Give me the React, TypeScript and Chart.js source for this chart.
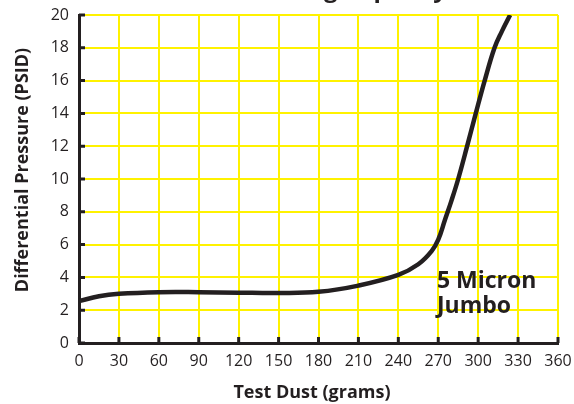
import React, { useEffect, useRef } from "react";
import { Chart, registerables } from "chart.js";

Chart.register(...registerables);

// ---- data ----
const DUST_GRAMS = [0, 15, 30, 60, 90, 120, 150, 180, 210, 240, 255, 265, 270, 275, 280, 285, 291.7, 298.2, 304.9, 312.3, 317.8, 324];
const PRESSURE_PSID = [2.55, 2.85, 3.0, 3.1, 3.1, 3.07, 3.05, 3.12, 3.5, 4.15, 4.8, 5.6, 6.3, 7.5, 8.7, 10, 12, 14, 16, 18, 19, 20];
const X_TICKS = [0, 30, 60, 90, 120, 150, 180, 210, 240, 270, 300, 330, 360];
const Y_TICKS = [0, 2, 4, 6, 8, 10, 12, 14, 16, 18, 20];
const SERIES_LABEL = ["5 Micron", "Jumbo"];
const LABEL_ANCHOR = { x: 269, y: 3.35 };
const CHART_TITLE = "Dirt Holding Capacity";
const X_TITLE = "Test Dust (grams)";
const Y_TITLE = "Differential Pressure (PSID)";

const INK = "#231f20";
const YELLOW = "#fff200";
const FONT = "'Open Sans', 'DejaVu Sans', sans-serif";

const zeroPad = (s: any) => {
  s.paddingLeft = 0;
  s.paddingRight = 0;
  s.paddingTop = 0;
  s.paddingBottom = 0;
};

const decorPlugin = {
  id: "decor",
  beforeDatasetsDraw(chart: any) {
    const { ctx, chartArea } = chart;
    const xs = chart.scales.x;
    const ys = chart.scales.y;
    ctx.save();
    ctx.strokeStyle = INK;
    ctx.lineWidth = 3;
    ctx.beginPath();
    for (const v of Y_TICKS) {
      const py = ys.getPixelForValue(v);
      ctx.moveTo(chartArea.left, py);
      ctx.lineTo(chartArea.left + 6, py);
    }
    for (const v of X_TICKS) {
      const px = xs.getPixelForValue(v);
      ctx.moveTo(px, chartArea.bottom);
      ctx.lineTo(px, chartArea.bottom - 6);
    }
    ctx.stroke();
    ctx.restore();
  },
  afterDraw(chart: any) {
    const { ctx } = chart;
    const xs = chart.scales.x;
    const ys = chart.scales.y;
    ctx.save();
    ctx.fillStyle = INK;
    // cut-off chart title
    ctx.font = `bold 24px ${FONT}`;
    ctx.textAlign = "right";
    ctx.textBaseline = "alphabetic";
    ctx.fillText(CHART_TITLE, 447, -3);
    // x title
    ctx.font = `bold 18px ${FONT}`;
    ctx.textAlign = "center";
    ctx.fillText(X_TITLE, 312, 398);
    // y title
    ctx.save();
    ctx.translate(28, 170);
    ctx.rotate(-Math.PI / 2);
    ctx.fillText(Y_TITLE, 0, 0);
    ctx.restore();
    // series label
    ctx.font = `bold 23px ${FONT}`;
    ctx.textAlign = "left";
    const lx = xs.getPixelForValue(LABEL_ANCHOR.x);
    const ly = ys.getPixelForValue(LABEL_ANCHOR.y);
    SERIES_LABEL.forEach((t, i) => ctx.fillText(t, lx, ly + i * 25));
    ctx.restore();
  },
};

export default function App() {
  const ref = useRef<HTMLCanvasElement | null>(null);
  useEffect(() => {
    if (!ref.current) return;
    const chart = new Chart(ref.current, {
      type: "line",
      data: {
        datasets: [
          {
            data: DUST_GRAMS.map((x, i) => ({ x, y: PRESSURE_PSID[i] })),
            borderColor: INK,
            borderWidth: 4.5,
            pointRadius: 0,
            tension: 0.4,
            fill: false,
          },
        ],
      },
      options: {
        responsive: false,
        animation: false,
        devicePixelRatio: 1,
        layout: { padding: { top: 15, right: 16, left: 0, bottom: 0 } },
        plugins: { legend: { display: false }, tooltip: { enabled: false }, title: { display: false } },
        scales: {
          x: {
            type: "linear",
            min: 0,
            max: 360,
            afterFit: (s: any) => {
              s.height = 61;
              zeroPad(s);
            },
            afterBuildTicks: (s: any) => {
              s.ticks = X_TICKS.map((v) => ({ value: v }));
            },
            ticks: { color: INK, padding: 9, font: { family: FONT, size: 16 }, maxRotation: 0, autoSkip: false },
            grid: { color: YELLOW, lineWidth: 2, drawTicks: false },
            border: { color: INK, width: 3 },
          },
          y: {
            type: "linear",
            min: 0,
            max: 20,
            afterFit: (s: any) => {
              s.width = 79;
              zeroPad(s);
            },
            afterBuildTicks: (s: any) => {
              s.ticks = Y_TICKS.map((v) => ({ value: v }));
            },
            ticks: { color: INK, padding: 10, font: { family: FONT, size: 16 }, autoSkip: false },
            grid: { color: YELLOW, lineWidth: 2, drawTicks: false },
            border: { color: INK, width: 3 },
          },
        },
      },
      plugins: [decorPlugin],
    });
    return () => chart.destroy();
  }, []);
  return (
    <div style={{ position: "fixed", left: 0, top: 0, width: 574, height: 404, background: "#fff" }}>
      <canvas ref={ref} width={574} height={404} style={{ width: 574, height: 404, display: "block" }} />
    </div>
  );
}
